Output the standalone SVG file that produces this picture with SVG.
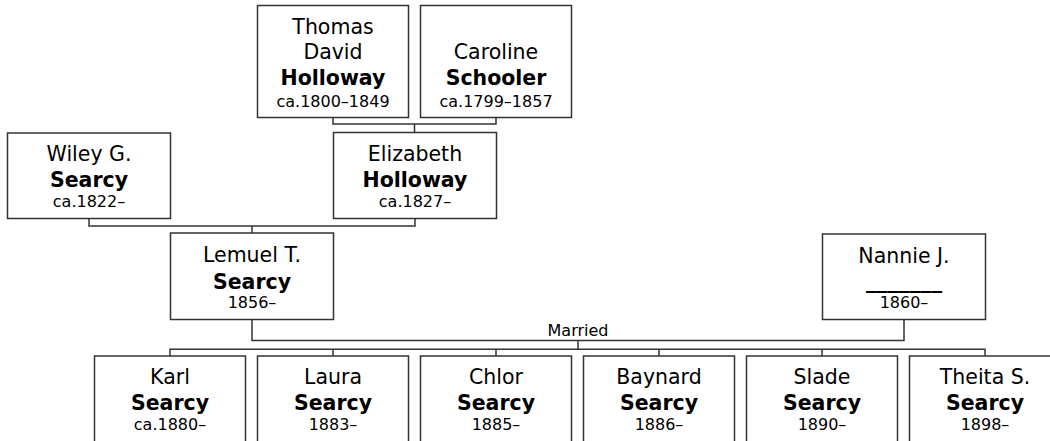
<svg xmlns="http://www.w3.org/2000/svg" width="1050" height="441" viewBox="0 0 1050 441">
<style>
.box{fill:#fff;stroke:#333;stroke-width:1.5}
.ln{fill:none;stroke:#333;stroke-width:1.5}
text{font-family:"DejaVu Sans",Verdana,sans-serif;fill:#000;text-anchor:middle}
.n{font-size:20.5px}
.b{font-size:20.5px;font-weight:bold}
.s{font-size:16px}
</style>
<rect width="1050" height="441" fill="#fff"/>
<g id="connectors">
<path class="ln" d="M333,117.5 V124 H496 V117.5 M414.5,124 V132.5"/>
<path class="ln" d="M89,218.5 V226 H415 V218.5 M252,226 V233"/>
<path class="ln" d="M252,319.5 V340.5 H904 V319.5 M578,340.5 V349.3"/>
<path class="ln" d="M170,356 V349.3 H985 V356 M333,349.3 V356 M496,349.3 V356 M659,349.3 V356 M822,349.3 V356"/>
</g>
<g id="thomas">
<rect class="box" x="257.5" y="5.5" width="151" height="112"/>
<text class="n" x="333" y="33.5">Thomas</text>
<text class="n" x="333" y="59.3">David</text>
<text class="b" x="333" y="85">Holloway</text>
<text class="s" x="333" y="106.7">ca.1800–1849</text>
</g>
<g id="caroline">
<rect class="box" x="420.5" y="5.5" width="151" height="112"/>
<text class="n" x="496" y="59.3">Caroline</text>
<text class="b" x="496" y="85">Schooler</text>
<text class="s" x="496" y="106.7">ca.1799–1857</text>
</g>
<g id="wiley">
<rect class="box" x="7.5" y="133" width="163" height="85.5"/>
<text class="n" x="89" y="160.5">Wiley G.</text>
<text class="b" x="89" y="186.7">Searcy</text>
<text class="s" x="89" y="207">ca.1822–</text>
</g>
<g id="elizabeth">
<rect class="box" x="333.5" y="132.5" width="163" height="86"/>
<text class="n" x="415" y="160.5">Elizabeth</text>
<text class="b" x="415" y="186.7">Holloway</text>
<text class="s" x="415" y="207">ca.1827–</text>
</g>
<g id="lemuel">
<rect class="box" x="170.5" y="233" width="163" height="86.5"/>
<text class="n" x="252" y="261.7">Lemuel T.</text>
<text class="b" x="252" y="288.5">Searcy</text>
<text class="s" x="252" y="308.3">1856–</text>
</g>
<g id="nannie">
<rect class="box" x="822.5" y="234" width="163" height="85.5"/>
<text class="n" x="904" y="262.7">Nannie J.</text>
<text class="b" x="904" y="287.5" textLength="76" lengthAdjust="spacingAndGlyphs">_______</text>
<text class="s" x="904" y="308.3">1860–</text>
</g>
<g id="karl">
<rect class="box" x="94.5" y="356" width="151" height="100"/>
<text class="n" x="170" y="384">Karl</text>
<text class="b" x="170" y="410">Searcy</text>
<text class="s" x="170" y="430">ca.1880–</text>
</g>
<g id="laura">
<rect class="box" x="257.5" y="356" width="151" height="100"/>
<text class="n" x="333" y="384">Laura</text>
<text class="b" x="333" y="410">Searcy</text>
<text class="s" x="333" y="430">1883–</text>
</g>
<g id="chlor">
<rect class="box" x="420.5" y="356" width="151" height="100"/>
<text class="n" x="496" y="384">Chlor</text>
<text class="b" x="496" y="410">Searcy</text>
<text class="s" x="496" y="430">1885–</text>
</g>
<g id="baynard">
<rect class="box" x="583.5" y="356" width="151" height="100"/>
<text class="n" x="659" y="384">Baynard</text>
<text class="b" x="659" y="410">Searcy</text>
<text class="s" x="659" y="430">1886–</text>
</g>
<g id="slade">
<rect class="box" x="746.5" y="356" width="151" height="100"/>
<text class="n" x="822" y="384">Slade</text>
<text class="b" x="822" y="410">Searcy</text>
<text class="s" x="822" y="430">1890–</text>
</g>
<g id="theita">
<rect class="box" x="909.5" y="356" width="151" height="100"/>
<text class="n" x="985" y="384">Theita S.</text>
<text class="b" x="985" y="410">Searcy</text>
<text class="s" x="985" y="430">1898–</text>
</g>
<g id="married-label">
<text class="s" x="578" y="335.5">Married</text>
</g>
</svg>
